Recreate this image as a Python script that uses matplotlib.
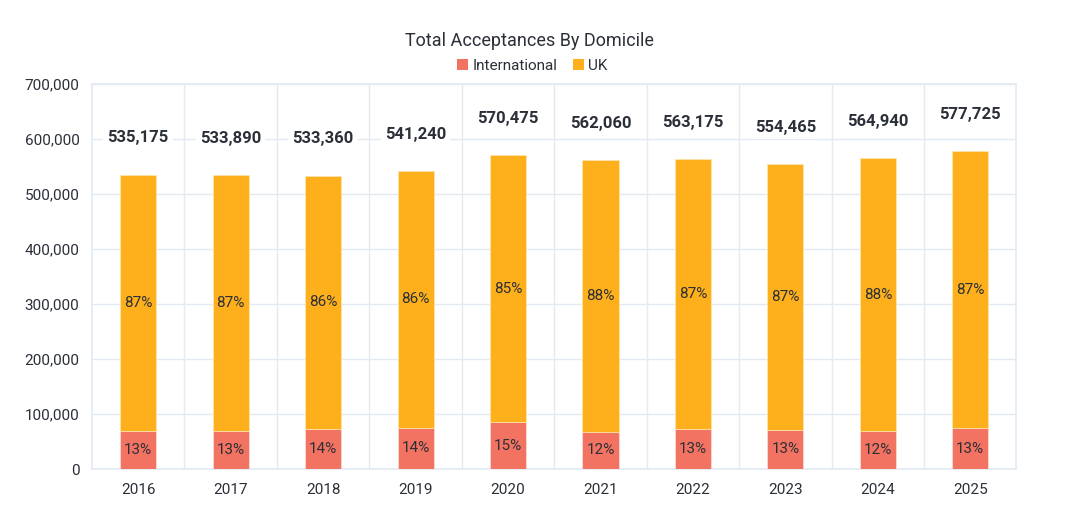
import matplotlib
matplotlib.use("Agg")
import matplotlib.pyplot as plt
from matplotlib.ticker import FuncFormatter, MultipleLocator
from matplotlib.patches import Patch

years = ["2016", "2017", "2018", "2019", "2020", "2021", "2022", "2023", "2024", "2025"]
totals = [535175, 533890, 533360, 541240, 570475, 562060, 563175, 554465, 564940, 577725]
international = [69500, 69500, 73500, 75500, 85000, 68000, 73000, 71500, 68500, 74500]
uk = [t - i for t, i in zip(totals, international)]
intl_pct = ["13%", "13%", "14%", "14%", "15%", "12%", "13%", "13%", "12%", "13%"]
uk_pct = ["87%", "87%", "86%", "86%", "85%", "88%", "87%", "87%", "88%", "87%"]

plt.rcParams['font.family'] = ['Roboto', 'DejaVu Sans']
text_col = "#2b2f38"
grid_col = "#e3eaf2"
c_int = "#F37362"
c_uk = "#FDB01B"

fig = plt.figure(figsize=(10.8, 5.16), dpi=100)
ax = fig.add_axes([0.0852, 0.091, 0.856, 0.746])

x = list(range(len(years)))
w = 0.39
ax.bar(x, international, width=w, color=c_int, zorder=3, edgecolor="#fbe0d8", linewidth=0.5)
ax.bar(x, uk, width=w, bottom=international, color=c_uk, zorder=3, edgecolor="#fde6b0", linewidth=0.5)

for xi, iv, uv, t, ip, up in zip(x, international, uk, totals, intl_pct, uk_pct):
    ax.text(xi, iv / 2, ip, ha="center", va="center", fontsize=11, color=text_col, zorder=4)
    ax.text(xi, iv + uv / 2, up, ha="center", va="center", fontsize=11, color=text_col, zorder=4)
    ax.text(xi, t + 67000, f"{t:,}", ha="center", va="center", fontsize=12, fontweight="bold",
            color=text_col, zorder=4,
            bbox=dict(facecolor="white", edgecolor="none", pad=3))

ax.set_xlim(-0.5, len(years) - 0.5)
ax.set_ylim(0, 700000)
ax.yaxis.set_major_locator(MultipleLocator(100000))
ax.yaxis.set_major_formatter(FuncFormatter(lambda v, p: f"{int(v):,}"))
ax.set_xticks(x)
ax.set_xticklabels(years)
ax.set_xticks([i + 0.5 for i in x[:-1]], minor=True)
ax.tick_params(axis="both", which="both", length=0, labelsize=11, colors=text_col)
ax.tick_params(axis="x", pad=10)
ax.tick_params(axis="y", pad=9)
ax.grid(axis="y", which="major", color=grid_col, linewidth=1, zorder=0)
ax.grid(axis="x", which="minor", color=grid_col, linewidth=1, zorder=0)
ax.grid(axis="x", which="major", visible=False)
for s in ax.spines.values():
    s.set_color(grid_col)
    s.set_linewidth(1.2)

fig.text(0.49, 0.921, "Total Acceptances By Domicile", ha="center", va="center", fontsize=13, color=text_col)
handles = [Patch(facecolor=c_int, label="International"), Patch(facecolor=c_uk, label="UK")]
fig.legend(handles=handles, loc="center", bbox_to_anchor=(0.493, 0.872), ncol=2, frameon=False,
           fontsize=11, handlelength=0.7, handleheight=0.7, handletextpad=0.3, columnspacing=1.0,
           labelcolor=text_col)

fig.savefig("out.png", dpi=100)
